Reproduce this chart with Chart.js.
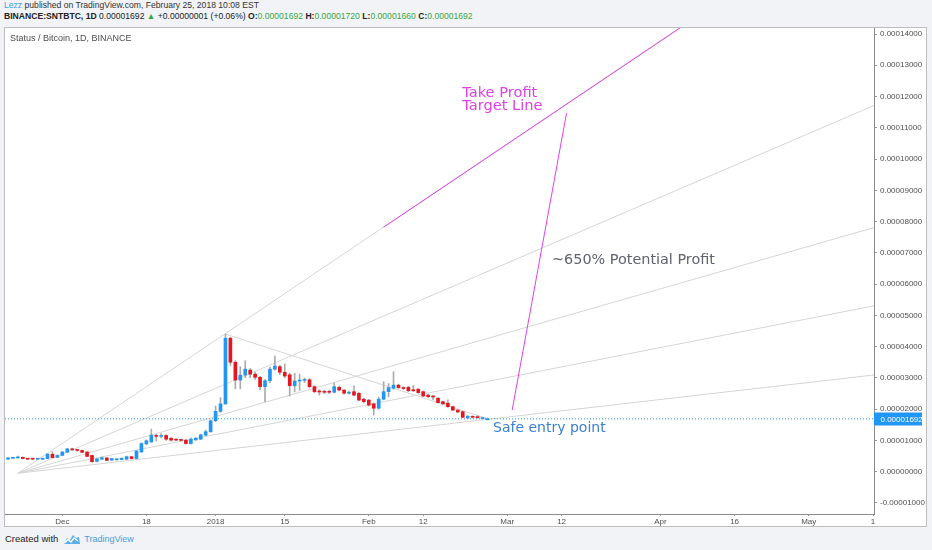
<!DOCTYPE html>
<html>
<head>
<meta charset="utf-8">
<script src="https://cdn.jsdelivr.net/npm/chart.js@4.4.1/dist/chart.umd.min.js"></script>
<style>
html,body{margin:0;padding:0;width:932px;height:550px;overflow:hidden;background:#f1f3f6;font-family:"Liberation Sans",Arial,sans-serif;}
.hdr{position:absolute;left:4px;font-size:8.6px;line-height:11px;color:#333;white-space:nowrap;}
#h1{top:0px;}
#h2{top:11px;color:#222;}
.g{color:#37a844;}
#frame{position:absolute;left:4px;top:27px;width:921px;height:498px;border:1px solid #bdbdbd;background:#fff;}
#c{position:absolute;left:0;top:0;}
#foot{position:absolute;left:5px;top:532px;font-size:9.5px;line-height:14px;color:#1e1e1e;white-space:nowrap;display:flex;align-items:center;}
#foot svg{margin:0 3px 0 4px;}
#foot .tv{color:#4aa0dd;font-size:9px;}
</style>
</head>
<body>
<div id="h1" class="hdr"><span style="color:#3aa5e2">Lezz</span> published on TradingView.com, February 25, 2018 10:08 EST</div>
<div id="h2" class="hdr"><b>BINANCE:SNTBTC, 1D</b> 0.00001692 <span class="g">&#9650;</span> +0.00000001 (+0.06%) <b>O:</b><span class="g">0.00001692</span> <b>H:</b><span class="g">0.00001720</span> <b>L:</b><span class="g">0.00001660</span> <b>C:</b><span class="g">0.00001692</span></div>
<div id="frame"><canvas id="c" width="921" height="498"></canvas></div>
<div id="foot">Created with<svg width="19" height="11" viewBox="0 0 19 11"><path d="M2 10 L5 4 L8 6 L11 1 L14 4 L17 3 L18 10 Z" fill="#5ab0e6"/><path d="M2.5 9 L6 5.5 L9 8 L12 4 L16 7" stroke="#fff" stroke-width="1.3" fill="none"/></svg><span class="tv">TradingView</span></div>
<script>
// ---------------- data (prices in BTC) ----------------
const firstCandleDate = '2017-11-20';
const opens = [0.40e-5,0.43e-5,0.44e-5,0.46e-5,0.42e-5,0.41e-5,0.40e-5,0.40e-5,0.42e-5,0.56e-5,
0.46e-5,0.52e-5,0.62e-5,0.73e-5,0.70e-5,0.68e-5,0.63e-5,0.52e-5,0.33e-5,0.40e-5,
0.44e-5,0.37e-5,0.38e-5,0.39e-5,0.40e-5,0.48e-5,0.42e-5,0.63e-5,0.89e-5,0.95e-5,
1.16e-5,1.13e-5,1.16e-5,1.07e-5,1.03e-5,1.02e-5,1.01e-5,0.90e-5,1.02e-5,1.04e-5,
1.17e-5,1.28e-5,1.63e-5,1.93e-5,2.17e-5,4.27e-5,3.50e-5,2.93e-5,3.09e-5,3.25e-5,
3.12e-5,3.02e-5,2.72e-5,2.91e-5,3.28e-5,3.36e-5,3.18e-5,3.10e-5,2.75e-5,2.90e-5,
2.92e-5,2.94e-5,2.72e-5,2.58e-5,2.57e-5,2.56e-5,2.54e-5,2.70e-5,2.61e-5,2.51e-5,
2.56e-5,2.51e-5,2.32e-5,2.29e-5,2.17e-5,2.03e-5,2.32e-5,2.56e-5,2.67e-5,2.77e-5,
2.69e-5,2.70e-5,2.62e-5,2.64e-5,2.56e-5,2.45e-5,2.42e-5,2.35e-5,2.24e-5,2.19e-5,
2.08e-5,1.97e-5,1.92e-5,1.72e-5,1.77e-5,1.75e-5,1.70e-5,1.692e-5];
const closes = [0.44e-5,0.44e-5,0.47e-5,0.42e-5,0.40e-5,0.40e-5,0.41e-5,0.42e-5,0.56e-5,0.45e-5,
0.52e-5,0.63e-5,0.73e-5,0.70e-5,0.68e-5,0.62e-5,0.49e-5,0.32e-5,0.41e-5,0.45e-5,
0.36e-5,0.42e-5,0.41e-5,0.43e-5,0.48e-5,0.42e-5,0.66e-5,0.90e-5,0.99e-5,1.17e-5,
1.13e-5,1.16e-5,1.04e-5,1.01e-5,1.01e-5,1.00e-5,0.90e-5,1.04e-5,1.07e-5,1.18e-5,
1.28e-5,1.63e-5,1.93e-5,2.17e-5,4.27e-5,3.50e-5,2.93e-5,3.09e-5,3.28e-5,3.12e-5,
3.02e-5,2.72e-5,2.91e-5,3.28e-5,3.38e-5,3.18e-5,3.06e-5,2.75e-5,2.90e-5,2.93e-5,
2.94e-5,2.72e-5,2.56e-5,2.55e-5,2.54e-5,2.54e-5,2.72e-5,2.61e-5,2.51e-5,2.54e-5,
2.45e-5,2.29e-5,2.24e-5,2.13e-5,2.03e-5,2.32e-5,2.56e-5,2.69e-5,2.77e-5,2.69e-5,
2.66e-5,2.59e-5,2.59e-5,2.53e-5,2.42e-5,2.40e-5,2.39e-5,2.21e-5,2.17e-5,2.08e-5,
1.97e-5,1.91e-5,1.74e-5,1.77e-5,1.74e-5,1.73e-5,1.72e-5,1.692e-5];
const highs = [0.46e-5,0.46e-5,0.50e-5,0.47e-5,0.43e-5,0.42e-5,0.42e-5,0.43e-5,0.58e-5,0.64e-5,
0.54e-5,0.65e-5,0.75e-5,0.75e-5,0.71e-5,0.69e-5,0.64e-5,0.53e-5,0.42e-5,0.47e-5,
0.45e-5,0.43e-5,0.42e-5,0.44e-5,0.50e-5,0.49e-5,0.68e-5,0.93e-5,1.02e-5,1.36e-5,
1.20e-5,1.22e-5,1.18e-5,1.09e-5,1.05e-5,1.04e-5,1.03e-5,1.08e-5,1.09e-5,1.20e-5,
1.33e-5,1.66e-5,2.10e-5,2.38e-5,4.40e-5,4.30e-5,3.55e-5,3.36e-5,3.55e-5,3.30e-5,
3.18e-5,3.05e-5,2.95e-5,3.35e-5,3.70e-5,3.40e-5,3.45e-5,3.15e-5,3.15e-5,3.12e-5,
3.00e-5,2.98e-5,2.75e-5,2.62e-5,2.60e-5,2.60e-5,2.84e-5,2.74e-5,2.63e-5,2.58e-5,
2.75e-5,2.53e-5,2.35e-5,2.31e-5,2.20e-5,2.38e-5,2.88e-5,2.82e-5,3.20e-5,2.80e-5,
2.72e-5,2.73e-5,2.76e-5,2.66e-5,2.58e-5,2.48e-5,2.44e-5,2.37e-5,2.26e-5,2.30e-5,
2.10e-5,1.99e-5,1.94e-5,1.80e-5,1.79e-5,1.80e-5,1.74e-5,1.720e-5];
const lows = [0.39e-5,0.42e-5,0.43e-5,0.41e-5,0.39e-5,0.39e-5,0.39e-5,0.39e-5,0.41e-5,0.44e-5,
0.45e-5,0.51e-5,0.61e-5,0.68e-5,0.66e-5,0.61e-5,0.47e-5,0.30e-5,0.31e-5,0.39e-5,
0.35e-5,0.36e-5,0.37e-5,0.38e-5,0.39e-5,0.41e-5,0.41e-5,0.62e-5,0.87e-5,0.94e-5,
0.98e-5,1.08e-5,1.00e-5,0.98e-5,0.99e-5,0.98e-5,0.88e-5,0.88e-5,1.00e-5,1.03e-5,
1.15e-5,1.26e-5,1.60e-5,1.90e-5,2.15e-5,3.40e-5,2.65e-5,2.65e-5,3.00e-5,3.00e-5,
2.95e-5,2.62e-5,2.24e-5,2.85e-5,3.25e-5,3.10e-5,3.00e-5,2.42e-5,2.55e-5,2.60e-5,
2.85e-5,2.68e-5,2.52e-5,2.45e-5,2.50e-5,2.50e-5,2.52e-5,2.58e-5,2.48e-5,2.48e-5,
2.42e-5,2.26e-5,2.20e-5,2.10e-5,1.81e-5,2.00e-5,2.30e-5,2.40e-5,2.64e-5,2.66e-5,
2.63e-5,2.56e-5,2.56e-5,2.50e-5,2.40e-5,2.37e-5,2.30e-5,2.19e-5,2.14e-5,2.06e-5,
1.95e-5,1.89e-5,1.72e-5,1.70e-5,1.72e-5,1.71e-5,1.68e-5,1.660e-5];

const lastPrice = 0.00001692;
const priceTicks = [-0.00001,0,0.00001,0.00002,0.00003,0.00004,0.00005,0.00006,0.00007,0.00008,0.00009,0.00010,0.00011,0.00012,0.00013,0.00014];
const tickDates = ['2017-12-01','2017-12-18','2018-01-01','2018-01-15','2018-02-01','2018-02-12','2018-03-01','2018-03-12','2018-04-01','2018-04-16','2018-05-01','2018-05-14'];
const tickLabels = ['Dec','18','2018','15','Feb','12','Mar','12','Apr','16','May','1'];

// drawings (date, price)
const fanOrigin = {date:'2017-11-22', price:-0.0000005};
const fanTargets = [
  {date:'2018-01-03', price:0.0000442},
  {date:'2018-05-14', price:0.0001170},
  {date:'2018-05-14', price:0.0000780},
  {date:'2018-05-14', price:0.0000530},
  {date:'2018-05-14', price:0.0000309}
];
const downTrend = [{date:'2018-01-03', price:0.0000440},{date:'2018-02-25', price:0.0000170}];
const targetLine = [{date:'2018-02-04', price:0.0000782},{date:'2018-04-10', price:0.0001473}];
const profitLine = [{date:'2018-03-02', price:0.0000197},{date:'2018-03-13', price:0.0001147}];

// ---------------- helpers ----------------
const DAY = 86400000, DEC1 = Date.UTC(2017,11,1);
function dayOf(iso){const p=iso.split('-').map(Number);return (Date.UTC(p[0],p[1]-1,p[2])-DEC1)/DAY;}
const X_MIN = -11.6, X_MAX = 164.2;
const Y_MIN = -0.00001353, Y_MAX = 0.00014192;
const UP = '#2196f3', DOWN = '#e5161e', WICK = '#ababab', FAN = '#d5d5d5', MAG = '#df40e6';
const FONT = '"Liberation Sans", Arial, sans-serif';

const first = dayOf(firstCandleDate);
const bodyData = opens.map((o,i)=>({x:first+i, y:[o, closes[i]]}));
const wickData = lows.map((l,i)=>({x:first+i, y:[l, highs[i]]}));
const bodyColors = opens.map((o,i)=> closes[i] >= o ? UP : DOWN);

const oX = dayOf(fanOrigin.date), oY = fanOrigin.price;
function extend(t){const tx=dayOf(t.date);const k=(t.price-oY)/(tx-oX);return [{x:oX,y:oY},{x:X_MAX+2,y:oY+k*(X_MAX+2-oX)}];}
const pts = arr => arr.map(p=>({x:dayOf(p.date), y:p.price}));

function lineDS(data,color,order,extra){return Object.assign({type:'line',data,borderColor:color,borderWidth:1,pointRadius:0,fill:false,tension:0,order},extra||{});}

const datasets = [];
fanTargets.forEach(t=>datasets.push(lineDS(extend(t),FAN,20)));
datasets.push(lineDS(pts(downTrend),FAN,19));
datasets.push({type:'bar',data:wickData,backgroundColor:WICK,barThickness:1,grouped:false,borderWidth:0,order:10});
datasets.push({type:'bar',data:bodyData,backgroundColor:bodyColors,barThickness:3,grouped:false,borderWidth:0,minBarLength:1,order:9});
datasets.push(lineDS([{x:X_MIN,y:lastPrice},{x:X_MAX,y:lastPrice}],'#2196f3',5,{borderDash:[1,2]}));
datasets.push(lineDS(pts(targetLine),MAG,1));
datasets.push(lineDS(pts(profitLine),MAG,1));

const notes = [
  {text:'Take Profit', day:80.9, price:0.00012113, color:MAG, font:'14.6px "DejaVu Sans"'},
  {text:'Target Line', day:80.9, price:0.00011697, color:MAG, font:'14.6px "DejaVu Sans"'},
  {text:'~650% Potential Profit', day:99.07, price:0.00006771, color:'#5f6270', font:'14.4px "DejaVu Sans"'},
  {text:'Safe entry point', day:87.13, price:0.00001398, color:'#3d7fd0', font:'14px "DejaVu Sans"'}
];

const overlay = {
  id:'overlay',
  afterDraw(chart){
    const {ctx, chartArea:a, scales:{x,y}} = chart;
    ctx.save();
    ctx.beginPath(); ctx.rect(a.left,a.top,a.right-a.left,a.bottom-a.top); ctx.clip();
    ctx.textAlign='left'; ctx.textBaseline='middle';
    ctx.font='9px '+FONT; ctx.fillStyle='#4d4d4d';
    ctx.fillText('Status / Bitcoin, 1D, BINANCE', a.left+5, a.top+10.5);
    notes.forEach(n=>{ctx.font=n.font;ctx.fillStyle=n.color;ctx.fillText(n.text,x.getPixelForValue(n.day),y.getPixelForValue(n.price));});
    ctx.restore();
    const py = Math.round(y.getPixelForValue(lastPrice));
    ctx.save();
    ctx.fillStyle='#2196f3'; ctx.fillRect(a.right, py-6.5, 48, 13);
    ctx.fillStyle='#ffffff'; ctx.font='8px '+FONT; ctx.textAlign='left'; ctx.textBaseline='middle';
    ctx.fillText(lastPrice.toFixed(8), a.right+6.5, py+0.5);
    ctx.restore();
  }
};

new Chart(document.getElementById('c'), {
  type:'bar',
  data:{datasets},
  options:{
    responsive:false, animation:false, devicePixelRatio:1,
    layout:{padding:0},
    plugins:{legend:{display:false}, tooltip:{enabled:false}},
    scales:{
      x:{type:'linear', min:X_MIN, max:X_MAX, offset:false,
        grid:{drawOnChartArea:false, drawTicks:true, tickLength:2, color:'#999', offset:false},
        border:{display:true, color:'#8c8c8c'},
        ticks:{autoSkip:false, maxRotation:0, padding:1, color:'#4f4f4f', font:{family:FONT,size:8}, callback:(v,i)=>tickLabels[i]},
        afterBuildTicks:s=>{s.ticks=tickDates.map(t=>({value:dayOf(t)}));},
        afterFit:s=>{s.height=12; s.paddingLeft=0; s.paddingRight=0;}
      },
      y:{type:'linear', position:'right', min:Y_MIN, max:Y_MAX,
        grid:{drawOnChartArea:false, drawTicks:true, tickLength:3, color:'#999'},
        border:{display:true, color:'#8c8c8c'},
        ticks:{padding:3, crossAlign:'near', color:'#4f4f4f', font:{family:FONT,size:8}, callback:v=>v.toFixed(8)},
        afterBuildTicks:s=>{s.ticks=priceTicks.map(v=>({value:v}));},
        afterFit:s=>{s.width=52; s.paddingTop=0; s.paddingBottom=0;}
      }
    }
  },
  plugins:[overlay]
});
</script>
</body>
</html>
